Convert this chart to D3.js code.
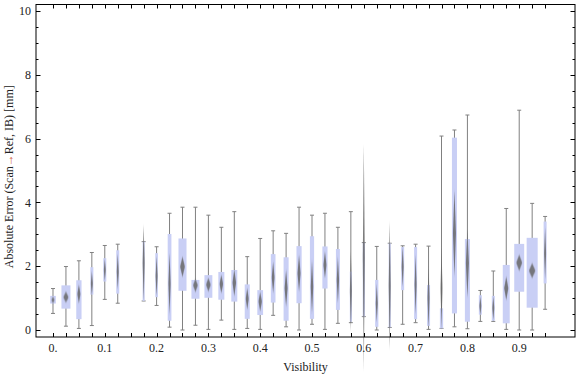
<!DOCTYPE html>
<html>
<head>
<meta charset="utf-8">
<script src="https://cdn.jsdelivr.net/npm/d3@7"></script>
<style>
  html, body { margin: 0; padding: 0; background: #fff; }
  svg { display: block; }
  text { font-family: "Liberation Serif", "Times New Roman", serif; }
</style>
</head>
<body>
<svg id="chart" width="576" height="377"></svg>
<script>
// ---- Data ----
const visibility = [0,0.025,0.05,0.075,0.1,0.125,0.175,0.2,0.225,0.25,0.275,0.3,0.325,0.35,0.375,0.4,0.425,0.45,0.475,0.5,0.525,0.55,0.575,0.6,0.625,0.65,0.675,0.7,0.725,0.75,0.775,0.8,0.825,0.85,0.875,0.9,0.925,0.95];
const whiskerMin = [0.52,0.12,0.05,0.14,0.96,0.84,0.91,0.77,0.09,0.00,0.15,0.02,0.31,0.02,0.05,0.02,0.46,0.10,0.00,0.18,0.02,0.21,0.23,0.42,0.00,0.08,0.18,0.23,0.02,0.05,0.10,0.04,0.27,0.27,0.02,0.00,0.00,0.65];
const quartile1  = [0.83,0.67,0.34,1.11,1.52,1.14,0.91,1.03,0.29,1.23,0.98,1.01,0.95,0.89,0.35,0.47,0.86,0.29,0.84,0.35,1.30,0.63,0.26,0.42,0.10,0.08,1.25,0.34,0.13,0.05,0.52,0.26,0.48,0.29,0.21,1.20,0.70,1.46];
const medians    = [0.94,1.03,1.13,1.46,1.88,1.83,2.10,1.69,1.45,1.98,1.40,1.42,1.44,1.48,0.98,0.89,1.65,1.31,1.78,1.36,2.04,1.57,1.22,2.27,0.84,1.39,1.98,1.43,1.00,1.30,3.03,2.09,0.75,0.69,1.31,2.11,1.86,2.40];
const quartile3  = [1.07,1.40,1.56,1.97,2.25,2.50,2.77,2.41,3.01,2.87,1.57,1.72,1.82,1.88,1.43,1.25,2.38,2.28,2.63,2.94,2.62,2.54,1.83,2.74,1.57,2.72,2.60,2.60,1.41,0.68,6.03,2.85,1.09,1.07,2.04,2.70,2.89,3.40];
const whiskerMax = [1.30,1.99,2.17,2.43,2.65,2.69,2.77,2.61,3.66,3.85,3.85,3.60,3.22,3.71,2.30,2.87,3.11,3.03,3.85,3.60,3.66,3.22,3.71,2.74,2.62,2.72,2.64,2.69,2.63,6.08,6.27,6.74,1.24,1.85,3.81,6.89,3.97,3.56];
const notchHalf  = [0.10,0.17,0.29,0.39,0.35,0.55,1.20,0.63,0.97,0.32,0.21,0.21,0.29,0.42,0.34,0.31,0.50,0.58,0.58,0.84,0.42,0.73,1.25,3.56,0.60,2.00,0.63,0.94,0.97,1.30,1.36,1.07,0.29,0.37,0.37,0.25,0.23,0.81];
const boxWeight  = [0.47,0.75,0.44,0.25,0.25,0.25,0.17,0.22,0.31,0.67,0.67,0.66,0.50,0.50,0.42,0.48,0.39,0.42,0.43,0.35,0.43,0.33,0.17,0.18,0.27,0.17,0.25,0.25,0.25,0.27,0.42,0.42,0.25,0.25,0.58,0.83,0.92,0.25];
const xTickValues = d3.range(0, 0.951, 0.025);
const xTickLabels = ["0.","0.1","0.2","0.3","0.4","0.5","0.6","0.7","0.8","0.9"];
const xLabelValues = [0,0.1,0.2,0.3,0.4,0.5,0.6,0.7,0.8,0.9];
const yMajorTicks = [0,2,4,6,8,10];
const yMinorTicks = d3.range(0, 10.01, 0.5);
const xTitle = "Visibility";
const yTitleParts = ["Absolute Error (Scan", "\u2192", "Ref, IB) [mm]"];

// ---- Layout ----
const frame = { left: 36, right: 575, top: 4.5, bottom: 337 };
const x = d3.scaleLinear().domain([-0.0328, 1.0077]).range([frame.left, frame.right]);
const y = d3.scaleLinear().domain([-0.219, 10.204]).range([frame.bottom, frame.top]);
const widthScale = d3.scaleLinear().domain([0, 1]).range([0, 12]);

const svg = d3.select("#chart");
const defs = svg.append("defs");
defs.append("filter").attr("id", "soft")
  .attr("x", "-150%").attr("y", "-20%").attr("width", "400%").attr("height", "140%")
  .append("feGaussianBlur").attr("stdDeviation", "0.5 1.0");

const data = visibility.map((v, i) => ({
  v, lo: whiskerMin[i], q1: quartile1[i], med: medians[i], q3: quartile3[i],
  hi: whiskerMax[i], nh: notchHalf[i], w: widthScale(boxWeight[i])
}));

const marks = svg.append("g");
const g = marks.selectAll("g.cat").data(data).join("g").attr("class", "cat");

// whisker line
g.append("line")
  .attr("x1", d => x(d.v)).attr("x2", d => x(d.v))
  .attr("y1", d => y(d.hi)).attr("y2", d => y(d.lo))
  .attr("stroke", "#808080").attr("stroke-width", 1);
// caps
const capHalf = 2;
g.append("line")
  .attr("x1", d => x(d.v) - capHalf).attr("x2", d => x(d.v) + capHalf)
  .attr("y1", d => y(d.hi)).attr("y2", d => y(d.hi))
  .attr("stroke", "#808080").attr("stroke-width", 1);
g.append("line")
  .attr("x1", d => x(d.v) - capHalf).attr("x2", d => x(d.v) + capHalf)
  .attr("y1", d => y(d.lo)).attr("y2", d => y(d.lo))
  .attr("stroke", "#808080").attr("stroke-width", 1);
// box
g.append("rect")
  .attr("x", d => x(d.v) - d.w / 2).attr("width", d => d.w)
  .attr("y", d => y(d.q3)).attr("height", d => y(d.q1) - y(d.q3))
  .attr("fill", "#c9cff5");
// median diamond (notch)
g.append("path")
  .attr("d", d => {
    const cx = x(d.v), dw = Math.max(1.0, d.w * 0.3);
    return `M${cx},${y(d.med + d.nh)}L${cx + dw},${y(d.med)}L${cx},${y(d.med - d.nh)}L${cx - dw},${y(d.med)}Z`;
  })
  .attr("fill", "#666").attr("fill-opacity", 0.85)
  .attr("filter", "url(#soft)");

// ---- Frame ----
const axes = svg.append("g");
axes.append("rect")
  .attr("x", frame.left).attr("y", frame.top)
  .attr("width", frame.right - frame.left).attr("height", frame.bottom - frame.top)
  .attr("fill", "none").attr("stroke", "#000").attr("stroke-width", 1);

// x ticks bottom & top
xTickValues.forEach(v => {
  const px = Math.round(x(v)) + 0.5;
  axes.append("line").attr("x1", px).attr("x2", px)
    .attr("y1", frame.bottom).attr("y2", frame.bottom - 4)
    .attr("stroke", "#000");
  axes.append("line").attr("x1", px).attr("x2", px)
    .attr("y1", frame.top).attr("y2", frame.top + 4)
    .attr("stroke", "#000");
});
axes.selectAll("text.xl").data(xLabelValues).join("text").attr("class", "xl")
  .attr("x", d => x(d)).attr("y", 352)
  .attr("text-anchor", "middle").attr("font-size", 12).attr("fill", "#222")
  .text((d, i) => xTickLabels[i]);

// y ticks left & right
yMinorTicks.forEach(v => {
  const py = Math.round(y(v)) + 0.5;
  const major = yMajorTicks.includes(v);
  const len = major ? 4.5 : 2.5;
  axes.append("line").attr("x1", frame.left).attr("x2", frame.left + len)
    .attr("y1", py).attr("y2", py).attr("stroke", "#000");
  axes.append("line").attr("x1", frame.right).attr("x2", frame.right - len)
    .attr("y1", py).attr("y2", py).attr("stroke", "#000");
});
axes.selectAll("text.yl").data(yMajorTicks).join("text").attr("class", "yl")
  .attr("x", 31).attr("y", d => y(d)).attr("dy", "0.35em")
  .attr("text-anchor", "end").attr("font-size", 12).attr("fill", "#222")
  .text(d => d);

// titles
svg.append("text")
  .attr("x", (frame.left + frame.right) / 2).attr("y", 371)
  .attr("text-anchor", "middle").attr("font-size", 12).attr("fill", "#222")
  .text(xTitle);

const yt = svg.append("text")
  .attr("transform", `translate(13,${(frame.top + frame.bottom) / 2 + 6}) rotate(-90)`)
  .attr("text-anchor", "middle").attr("font-size", 12).attr("fill", "#222");
yt.append("tspan").text(yTitleParts[0]);
yt.append("tspan").attr("fill", "#d05a3c").text(yTitleParts[1]);
yt.append("tspan").text(yTitleParts[2]);
</script>
</body>
</html>
